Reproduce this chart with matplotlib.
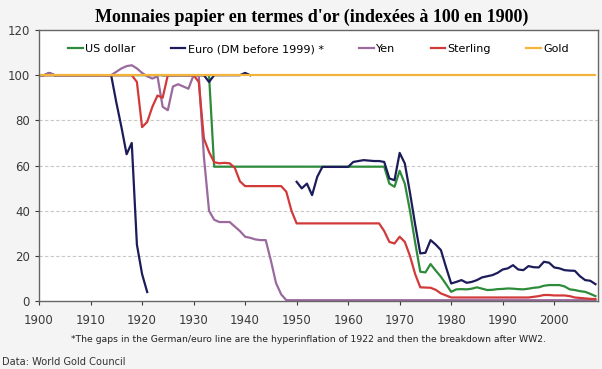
import numpy as np
import matplotlib
matplotlib.use("Agg")
import matplotlib.pyplot as plt

nan = np.nan
years = list(range(1900, 2009))

# index values (1900 = 100), one per year
us_dollar = ([100] * 34 + [59.5] * 34 +
             [52, 50.6, 57.7, 52, 40, 26, 13, 12.7, 16.4, 13.5, 10.8, 7.5,
              4.1, 5.2, 5.3, 5.2, 5.5, 6.1, 5.5, 4.9, 5.0, 5.3, 5.4, 5.6,
              5.5, 5.3, 5.2, 5.5, 5.9, 6.1, 6.8, 7.1, 7.1, 7.1, 6.5, 5.2,
              4.9, 4.4, 4.1, 3.2, 2.2])

euro = ([100, 100, 101, 100, 100, 100, 100, 100, 100, 100, 100, 100, 100, 100,
         100, 88, 77, 65, 70, 25, 12, 4, nan, nan,
         100, 100, 100, 100, 100, 100, 100, 100, 100, 97, 100, 100, 100, 100,
         100, 100, 101, 100] + [nan] * 8 +
        [52.8, 49.9, 52, 46.9, 55, 59.4, 59.4, 59.4, 59.4, 59.4, 59.4, 61.6,
         62, 62.4, 62.2, 62, 62, 61.6, 54.3, 53.5, 65.6, 60.9, 48, 34, 21.1,
         21.4, 27, 25, 22.6, 15, 7.8, 8.5, 9.3, 8.1, 8.5, 9.3, 10.5, 11, 11.5,
         12.5, 14, 14.5, 15.9, 14, 13.7, 15.5, 15, 14.9, 17.4, 17, 14.9, 14.5,
         13.7, 13.5, 13.4, 11, 9.3, 9, 7.5])

yen = ([100, 100, 101, 100, 100, 100, 100, 100, 100, 100, 100, 100, 100, 100,
        100, 101.5, 103, 104, 104.4, 103, 101, 99.5, 98.5, 99.5, 86, 84.5,
        95, 96, 95, 94, 100, 100, 64, 40, 36, 35, 35, 35, 33, 31, 28.5, 28,
        27.3, 27, 27, 18, 8, 3] + [0.4] * 61)

sterling = ([100] * 19 +
            [97, 77, 79.3, 86, 91, 90, 100, 100, 100, 100, 100, 100, 97, 72,
             66, 61.5, 61, 61.2, 61, 59, 53] + [50.9] * 8 +
            [48.4, 40] + [34.4] * 17 +
            [31, 26.2, 25.5, 28.5, 26.2, 20, 12, 6.1, 6, 5.9, 5, 3.4, 2.5] +
            [1.6] * 16 +
            [1.9, 2.2, 2.7, 2.7, 2.5, 2.5, 2.5, 2.2, 1.6, 1.4, 1.2, 1.0, 0.9])

gold = [100] * len(years)

series = [
    ("US dollar", us_dollar, "#2e8b3a"),
    ("Euro (DM before 1999) *", euro, "#1c1c5a"),
    ("Yen", yen, "#9a6a9e"),
    ("Sterling", sterling, "#d23a3a"),
    ("Gold", gold, "#f2b43a"),
]

fig = plt.figure(figsize=(6.02, 3.69), dpi=100, facecolor="#f4f4f4")
ax = fig.add_axes([0.0648, 0.184, 0.9286, 0.7347])
ax.set_facecolor("white")

for name, vals, col in series:
    ax.plot(years, vals, color=col, lw=1.6, label=name)

ax.set_xlim(1900, 2008.5)
ax.set_ylim(0, 120)
ax.set_xticks(range(1900, 2001, 10))
ax.set_yticks(range(0, 121, 20))
for y in [20, 40, 60, 80]:
    ax.axhline(y, color="#c8c8c8", lw=0.8, ls=(0, (3, 2)), zorder=0)

for s in ax.spines.values():
    s.set_color("#666666")
    s.set_linewidth(1.0)
ax.tick_params(labelsize=8.5, colors="#3a3a3a", length=3, width=0.8)
ax.tick_params(axis="x", pad=6)

ax.legend(loc="upper center", bbox_to_anchor=(0.5, 0.985), ncol=5,
          frameon=False, fontsize=8, handlelength=1.3, handletextpad=0.2,
          columnspacing=3.2)

fig.text(0.517, 0.954, "Monnaies papier en termes d'or (indexées à 100 en 1900)",
         ha="center", va="center", family="Liberation Serif",
         fontweight="bold", fontsize=13)
fig.text(0.513, 0.08,
         "*The gaps in the German/euro line are the hyperinflation of 1922 "
         "and then the breakdown after WW2.",
         ha="center", va="center", fontsize=6.7, color="#222222")
fig.text(0.003, 0.018, "Data: World Gold Council", ha="left", va="center",
         fontsize=7.1, color="#333333")

fig.savefig("out.png", dpi=100, facecolor=fig.get_facecolor())
